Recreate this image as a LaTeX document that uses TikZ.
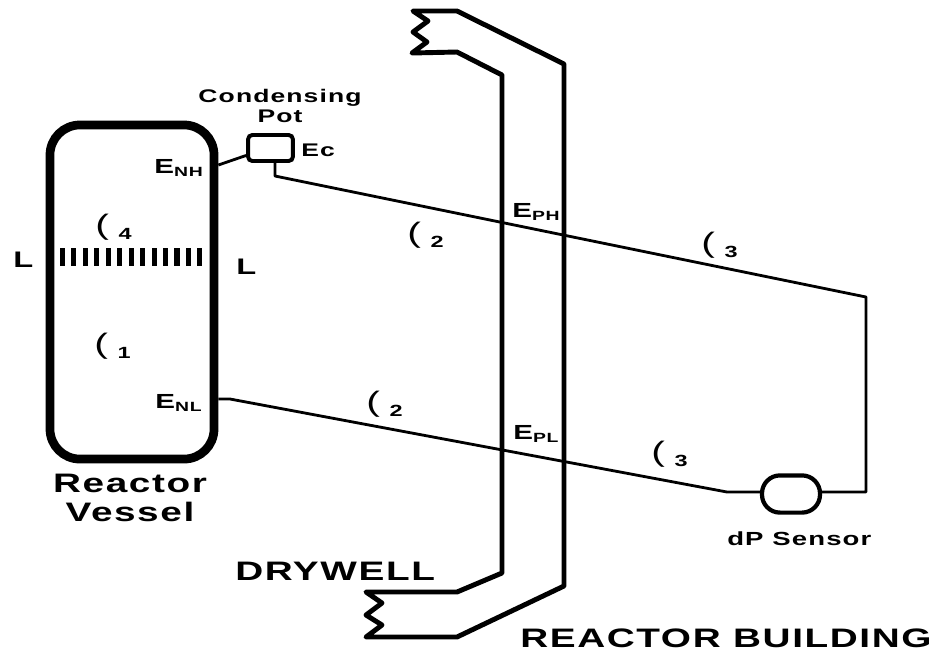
\documentclass[tikz,border=0pt]{standalone}
\usepackage{fontspec}
\setmainfont[FakeStretch=1.45,LetterSpace=6]{Liberation Sans}
\usetikzlibrary{positioning}

\newcommand{\elev}[2]{#1\raisebox{-0.17em}{\fontsize{9.5}{10}\selectfont #2}}
\newcommand{\density}[1]{{\fontsize{20}{21}\selectfont\mdseries(}\hspace{0.7em}\raisebox{-4pt}{\fontsize{11.5}{12}\selectfont #1}}

\begin{document}
\begin{tikzpicture}[
  x=0.025cm, y=-0.025cm,
  font=\bfseries,
  vessel/.style={draw, line width=6.2pt, rounded corners=0.75cm, minimum width=4.1cm, minimum height=8.35cm},
  pot/.style={draw, line width=2.8pt, rounded corners=3pt, minimum width=1.12cm, minimum height=0.65cm},
  sensor/.style={draw, line width=3pt, rounded corners=0.45cm, minimum width=1.45cm, minimum height=0.93cm},
  pipe/.style={line width=2pt, line join=round},
  wall/.style={line width=3.5pt, line join=round, line cap=round},
  level/.style={line width=3.6pt},
  title/.style={align=center, font=\bfseries\fontsize{19}{20.6}\selectfont},
  small/.style={align=center, font=\bfseries\fontsize{13}{14.6}\selectfont},
  tag/.style={anchor=base west, inner sep=0pt, font=\bfseries\fontsize{14.5}{16}\selectfont},
  dens/.style={anchor=base west, inner sep=0pt}
]
\useasboundingbox (0,0) rectangle (932,654);

\node[vessel] (rv) at (132,292) {};
\node[pot] (pot) at (270.5,148) {};
\node[sensor] (dp) at (791,494) {};

% level marks
\foreach \x in {0,...,12}
  \draw[level] ({62.5+\x*11.45},248) -- ({62.5+\x*11.45},266);

% building walls
\draw[wall] (412,53) -- (427,42) -- (413,32) -- (428,21) -- (413,11) -- (457,11)
  -- (564,64) -- (564,586) -- (457,637) -- (366,637) -- (382,625) -- (366,615)
  -- (382,603) -- (366,592) -- (457,592) -- (502,573) -- (502,75) -- (457,52) -- cycle;

% sensing lines
\coordinate (tapH) at (218,165);
\coordinate (tapL) at (218,399);
\coordinate (potdrop) at (275,176);
\coordinate (bendH) at (866,297);
\coordinate (bendR) at (866,492);
\coordinate (bendL1) at (230,399);
\coordinate (bendL2) at (727,492);
\draw[pipe] (rv.east |- tapH) -- (pot.197);
\draw[pipe] (pot.south -| potdrop) -- (potdrop) -- (bendH) -- (bendR) -- (dp.east |- bendR);
\draw[pipe] (rv.east |- tapL) -- (bendL1) -- (bendL2) -- (dp.west |- bendL2);

\node[small] (potname) at (280,106) {Condensing\\Pot};
\node[tag, font=\bfseries\fontsize{13}{14}\selectfont] (ec) at (301,156) {Ec};
\node[tag] (enh) at (154,173) {\elev{E}{NH}};
\node[tag] (enl) at (155,408) {\elev{E}{NL}};
\node[tag] (eph) at (512,217) {\elev{E}{PH}};
\node[tag] (epl) at (513,439) {\elev{E}{PL}};
\node[tag, font=\bfseries\fontsize{16}{17}\selectfont] (ll) at (13,267) {L};
\node[tag, font=\bfseries\fontsize{16}{17}\selectfont] (lr) at (236,274) {L};

\node[dens] (d4) at (95,234) {\density{4}};
\node[dens] (d1) at (94,353) {\density{1}};
\node[dens] (d2u) at (407,242) {\density{2}};
\node[dens] (d2l) at (366,411) {\density{2}};
\node[dens] (d3u) at (701,252) {\density{3}};
\node[dens] (d3l) at (651,461) {\density{3}};

\node[title] (rvname) at (130,498) {Reactor\\Vessel};
\node[tag, font=\bfseries\fontsize{19}{20}\selectfont] (dw) at (235,580) {DRYWELL};
\node[tag, font=\bfseries\fontsize{19}{20}\selectfont] (rb) at (520,647) {REACTOR BUILDING};
\node[tag, font=\bfseries\fontsize{13.5}{16}\selectfont] (dpname) at (727,545) {dP Sensor};

\end{tikzpicture}
\end{document}
